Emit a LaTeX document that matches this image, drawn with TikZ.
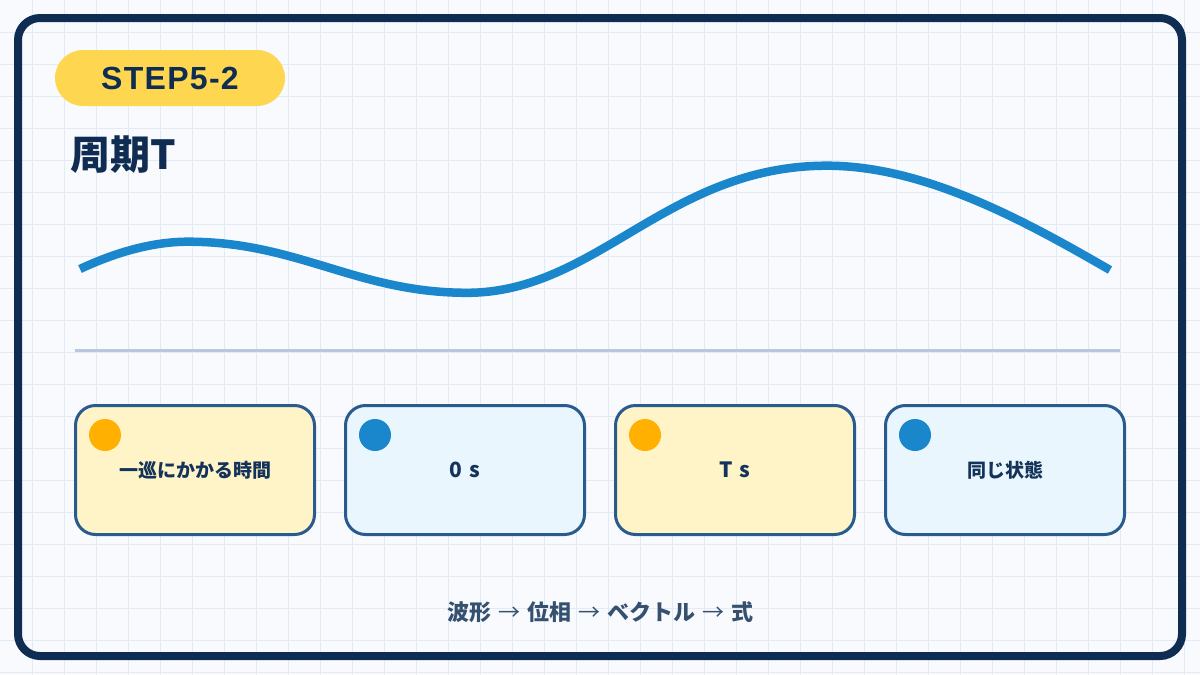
\documentclass[tikz,border=0pt]{standalone}
\usepackage{fontspec}
\setmainfont{Noto Sans CJK JP}
\newfontfamily\stepfont[LetterSpace=4]{Liberation Sans}
\usetikzlibrary{calc}
\definecolor{bgcol}{HTML}{F8FAFD}
\definecolor{gridcol}{HTML}{E3EAF4}
\definecolor{navy}{HTML}{0F2D52}
\definecolor{pillcol}{HTML}{FFD64F}
\definecolor{cardY}{HTML}{FFF4C7}
\definecolor{cardB}{HTML}{E9F6FD}
\definecolor{cardborder}{HTML}{2A5B8E}
\definecolor{dotO}{HTML}{FFB000}
\definecolor{dotB}{HTML}{1A86CB}
\definecolor{wavecol}{HTML}{1A87CD}
\definecolor{basecol}{HTML}{B7C8DE}
\definecolor{flowcol}{HTML}{35516F}
\definecolor{cardtext}{HTML}{14335A}
\newcommand{\flowarrow}{\hspace{7pt}{\mdseries →}\hspace{7pt}}
\begin{document}
\begin{tikzpicture}[x=1pt,y=-1pt,
  frame/.style={draw=navy, line width=8pt, rounded corners=22pt},
  pill/.style={fill=pillcol, rounded corners=28pt, minimum width=230pt, minimum height=56pt, inner sep=0pt, text=navy},
  card/.style={draw=cardborder, line width=3pt, rounded corners=20pt, minimum width=239pt, minimum height=129pt, inner sep=0pt, text=cardtext, font=\fontsize{19}{22}\selectfont\bfseries},
  dot/.style={circle, minimum size=32pt, inner sep=0pt},
  wave/.style={draw=wavecol, line width=8.5pt, line cap=butt},
  baseline/.style={draw=basecol, line width=3pt}
]
\useasboundingbox (0,0) rectangle (1200,675);
\fill[bgcol] (0,0) rectangle (1200,675);
\foreach \i in {32,64,...,1184} \draw[gridcol, line width=1pt] (\i,0) -- (\i,675);
\foreach \j in {32,64,...,672} \draw[gridcol, line width=1pt] (0,\j) -- (1200,\j);
\draw[frame] (18,18) rectangle (1182,656);
\node[pill] (step) at (170,78) {\fontsize{32}{36}\selectfont\stepfont\bfseries STEP5-2};
\node[anchor=west, inner sep=0pt, text=navy] (title) at (70,155) {\fontsize{40}{44}\selectfont\bfseries 周期T};
\coordinate (w0) at (80,269);
\coordinate (w1) at (188,241.7);
\coordinate (w2) at (467,292.8);
\coordinate (w3) at (827,165.7);
\coordinate (w4) at (1110,270);
\draw[wave] (w0) .. controls (112,254) and (150,241.7) .. (w1)
  .. controls (298,241.7) and (357,292.8) .. (w2)
  .. controls (597,292.8) and (667,165.7) .. (w3)
  .. controls (927,165.7) and (1030,224) .. (w4);
\coordinate (bl) at (75,350);
\coordinate (br) at (1120,350);
\draw[baseline] (bl) -- (br);
\node[card, fill=cardY] (c1) at (195,470) {一巡にかかる時間};
\node[card, fill=cardB] (c2) at (465,470) {\fontsize{21}{24}\selectfont 0\hspace{7pt}s};
\node[card, fill=cardY] (c3) at (735,470) {\fontsize{21}{24}\selectfont T\hspace{7pt}s};
\node[card, fill=cardB] (c4) at (1005,470) {同じ状態};
\node[dot, fill=dotO] (d1) at (105,435) {};
\node[dot, fill=dotB] (d2) at (375,435) {};
\node[dot, fill=dotO] (d3) at (645,435) {};
\node[dot, fill=dotB] (d4) at (915,435) {};
\node[text=flowcol, font=\fontsize{22}{25}\selectfont\bfseries] (flow) at (600,612) {波形\flowarrow 位相\flowarrow ベクトル\flowarrow 式};
\end{tikzpicture}
\end{document}
